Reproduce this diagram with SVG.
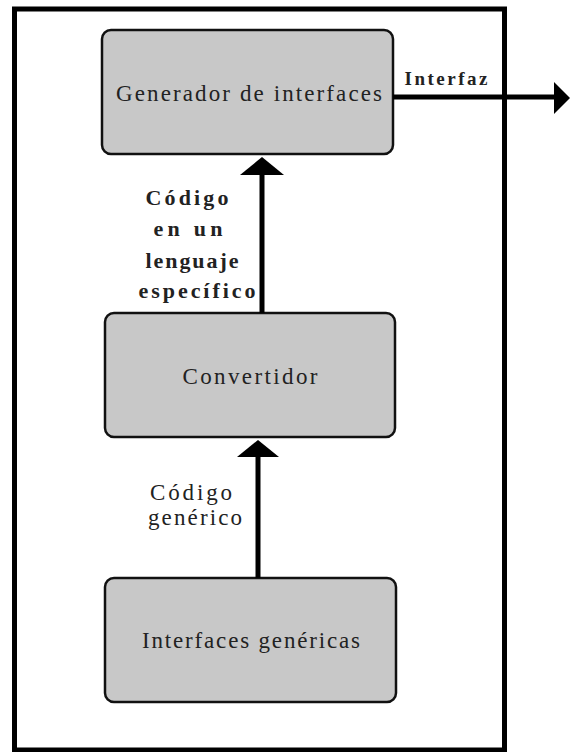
<svg xmlns="http://www.w3.org/2000/svg" width="570" height="752" viewBox="0 0 570 752">
<style>
.box{fill:#c8c8c8;stroke:#111;stroke-width:2.5}
.t{font-family:"Liberation Serif","Times New Roman",serif;font-size:23px;fill:#222;text-anchor:middle}
.b{font-weight:bold;font-size:22px}
.c{stroke:#000;stroke-width:5;fill:none}
.h{fill:#000}
</style>
<rect width="570" height="752" fill="#fff"/>
<rect id="frame" x="14.5" y="9" width="490" height="741" fill="none" stroke="#000" stroke-width="5"/>
<g id="generador">
<rect class="box" x="102" y="30" width="291" height="124" rx="9"/>
<text class="t" x="249" y="101" textLength="266" lengthAdjust="spacing">Generador de interfaces</text>
</g>
<g id="convertidor">
<rect class="box" x="105" y="313" width="290" height="124" rx="9"/>
<text class="t" x="250" y="384" textLength="135" lengthAdjust="spacing">Convertidor</text>
</g>
<g id="interfaces-genericas">
<rect class="box" x="105" y="578" width="291" height="124" rx="9"/>
<text class="t" x="251" y="648" textLength="218" lengthAdjust="spacing">Interfaces genéricas</text>
</g>
<g id="connectors">
<line class="c" x1="393" y1="97" x2="556" y2="97"/>
<polygon class="h" points="554,82 570,98 554,114"/>
<line class="c" x1="262" y1="313" x2="262" y2="172"/>
<polygon class="h" points="240,175 262,157 284,175"/>
<line class="c" x1="258" y1="578" x2="258" y2="454"/>
<polygon class="h" points="237,457 258,440 279,457"/>
</g>
<g id="labels">
<text class="t b" x="446" y="85" style="font-size:19px" textLength="83" lengthAdjust="spacing">Interfaz</text>
<text class="t b" x="187" y="205" textLength="83" lengthAdjust="spacing">Código</text>
<text class="t b" x="188" y="236" textLength="69" lengthAdjust="spacing">en un</text>
<text class="t b" x="192" y="268" textLength="93" lengthAdjust="spacing">lenguaje</text>
<text class="t b" x="197" y="298" textLength="117" lengthAdjust="spacing">específico</text>
<text class="t" x="191" y="500" textLength="82" lengthAdjust="spacing">Código</text>
<text class="t" x="195" y="525" textLength="94" lengthAdjust="spacing">genérico</text>
</g>
</svg>
